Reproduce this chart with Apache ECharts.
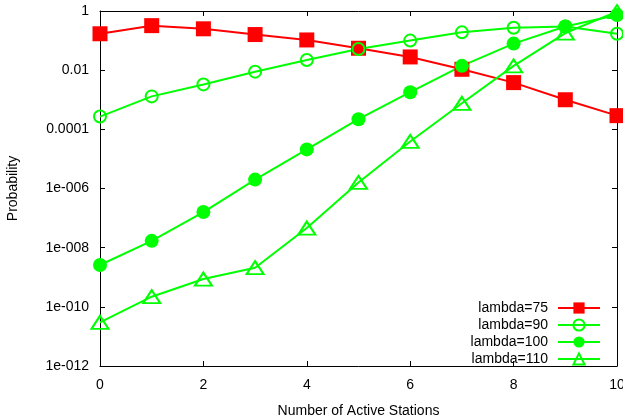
<!DOCTYPE html>
<html>
<head>
<meta charset="utf-8">
<script src="https://cdn.jsdelivr.net/npm/echarts@6/dist/echarts.min.js"></script>
<style>
html,body{margin:0;padding:0;background:#fff;}
#chart{width:623px;height:419px;}
</style>
</head>
<body>
<div id="chart"></div>
<script>
var stations = [0, 1, 2, 3, 4, 5, 6, 7, 8, 9, 10];
var lambda75 = [0.17, 0.32, 0.25, 0.16, 0.105, 0.055, 0.028, 0.0107, 0.0038, 0.001, 0.00029];
var lambda90 = [0.00027, 0.0013, 0.0033, 0.0089, 0.022, 0.052, 0.10, 0.19, 0.27, 0.30, 0.17];
var lambda100 = [2.6e-9, 1.7e-8, 1.6e-7, 2.0e-6, 2.1e-5, 2.2e-4, 1.8e-3, 0.014, 0.079, 0.30, 0.73];
var lambda110 = [3e-11, 2.2e-10, 8.7e-10, 2.1e-9, 4.6e-8, 1.6e-6, 3.9e-5, 7.6e-4, 0.014, 0.18, 0.95];
var seriesNames = ['lambda=75', 'lambda=90', 'lambda=100', 'lambda=110'];

function pairs(vals) {
  return stations.map(function (x, i) { return [x, vals[i]]; });
}
function fmtY(v) {
  var e = Math.round(Math.log(v) / Math.LN10);
  if (e === 0) return '1';
  if (e >= -4) return v.toFixed(-e);
  var n = String(-e);
  while (n.length < 3) n = '0' + n;
  return '1e-' + n;
}
var FONT = 'Liberation Sans';
var chart = echarts.init(document.getElementById('chart'), null, {renderer: 'canvas'});
var axisLine = {show: true, onZero: false, lineStyle: {color: '#000', width: 1}};
var axisTick = {show: true, inside: true, length: 5, lineStyle: {color: '#000'}};
var green = '#00ff00', red = '#ff0000';
chart.setOption({
  animation: false,
  backgroundColor: '#fff',
  grid: {left: 100, right: 6, top: 11, bottom: 53, containLabel: false, outerBoundsMode: 'none'},
  legend: {
    orient: 'vertical', right: 17, bottom: 48, align: 'right',
    itemWidth: 42, itemHeight: 14, itemGap: 3,
    textStyle: {fontFamily: FONT, fontSize: 14, color: '#000', padding: [0, 5, 0, 0]},
    data: seriesNames
  },
  xAxis: [{
    type: 'value', min: 0, max: 10, interval: 2, position: 'bottom',
    name: 'Number of Active Stations', nameLocation: 'middle', nameGap: 38,
    nameTextStyle: {fontFamily: FONT, fontSize: 14, color: '#000'},
    axisLine: axisLine, axisTick: axisTick, splitLine: {show: false},
    axisLabel: {fontFamily: FONT, fontSize: 14, color: '#000', margin: 12}
  }, {
    type: 'value', min: 0, max: 10, interval: 2, position: 'top',
    axisLine: axisLine, axisTick: axisTick, splitLine: {show: false},
    axisLabel: {show: false}
  }],
  yAxis: [{
    type: 'log', logBase: 10, min: 1e-12, max: 1, interval: 2, position: 'left',
    name: 'Probability', nameLocation: 'middle', nameGap: 80, nameRotate: 90,
    nameTextStyle: {fontFamily: FONT, fontSize: 14, color: '#000'},
    axisLine: axisLine, axisTick: axisTick, splitLine: {show: false},
    minorTick: {show: false},
    axisLabel: {fontFamily: FONT, fontSize: 14, color: '#000', margin: 11, formatter: fmtY}
  }, {
    type: 'log', logBase: 10, min: 1e-12, max: 1, interval: 2, position: 'right',
    axisLine: axisLine, axisTick: axisTick, splitLine: {show: false},
    axisLabel: {show: false}
  }],
  series: [{
    name: seriesNames[0], type: 'line', data: pairs(lambda75),
    symbol: 'rect', symbolSize: 15,
    lineStyle: {color: red, width: 2}, itemStyle: {color: red}
  }, {
    name: seriesNames[1], type: 'line', data: pairs(lambda90),
    symbol: 'circle', symbolSize: 12,
    lineStyle: {color: green, width: 2},
    itemStyle: {color: 'rgba(0,0,0,0)', borderColor: green, borderWidth: 2}
  }, {
    name: seriesNames[2], type: 'line', data: pairs(lambda100),
    symbol: 'circle', symbolSize: 14,
    lineStyle: {color: green, width: 2}, itemStyle: {color: green}
  }, {
    name: seriesNames[3], type: 'line', data: pairs(lambda110),
    symbol: 'triangle', symbolSize: [17, 13],
    lineStyle: {color: green, width: 2},
    itemStyle: {color: 'rgba(0,0,0,0)', borderColor: green, borderWidth: 2}
  }]
});
</script>
</body>
</html>
